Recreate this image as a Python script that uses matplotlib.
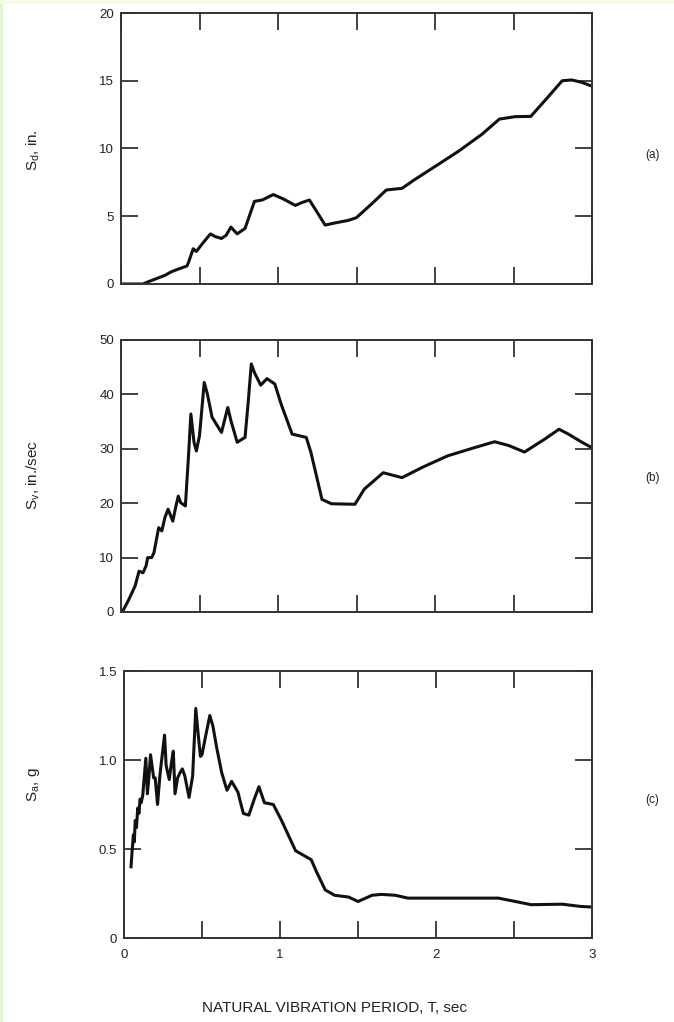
import matplotlib
matplotlib.use("Agg")
import matplotlib.pyplot as plt
import matplotlib.patches as ptch
import numpy as np

plt.rcParams['font.family'] = ['Liberation Sans', 'DejaVu Sans']
plt.rcParams['mathtext.fontset'] = 'custom'
plt.rcParams['mathtext.rm'] = 'Liberation Sans'
plt.rcParams['mathtext.it'] = 'Liberation Sans:italic'

# (a) deformation spectrum, S_d in inches
period_d = [0.0, 0.14, 0.17, 0.28, 0.32, 0.365, 0.42, 0.43, 0.46, 0.48, 0.52, 0.57,
            0.60, 0.64, 0.67, 0.70, 0.74, 0.79, 0.85, 0.90, 0.97, 1.03, 1.11, 1.15,
            1.20, 1.26, 1.30, 1.36, 1.45, 1.50, 1.60, 1.69, 1.79, 1.87, 2.00, 2.15,
            2.30, 2.41, 2.51, 2.61, 2.72, 2.81, 2.87, 2.93, 3.00]
sd = [0.0, 0.0, 0.15, 0.64, 0.9, 1.1, 1.33, 1.6, 2.6, 2.4, 3.0, 3.7,
      3.5, 3.36, 3.6, 4.2, 3.7, 4.1, 6.1, 6.2, 6.6, 6.3, 5.8, 6.0,
      6.2, 5.1, 4.35, 4.5, 4.7, 4.9, 5.95, 6.94, 7.06, 7.7, 8.67, 9.8,
      11.06, 12.17, 12.35, 12.37, 13.8, 15.0, 15.06, 14.9, 14.6]

# (b) pseudo-velocity spectrum, S_v in in./sec
period_v = [0.01, 0.05, 0.09, 0.115, 0.14, 0.16, 0.17, 0.195, 0.21, 0.24, 0.26, 0.28,
            0.30, 0.33, 0.35, 0.365, 0.38, 0.41, 0.43, 0.445, 0.465, 0.48, 0.50, 0.53,
            0.55, 0.58, 0.64, 0.68, 0.70, 0.74, 0.79, 0.81, 0.83, 0.85, 0.89, 0.93,
            0.98, 1.02, 1.09, 1.18, 1.21, 1.28, 1.34, 1.49, 1.55, 1.67, 1.79, 1.92,
            2.08, 2.25, 2.38, 2.47, 2.57, 2.70, 2.79, 2.85, 2.93, 3.00]
sv = [0.1, 2.3, 4.8, 7.5, 7.2, 8.5, 10.0, 10.0, 10.9, 15.5, 14.9, 17.4,
      18.9, 16.7, 19.5, 21.3, 20.1, 19.5, 28.7, 36.4, 31.2, 29.6, 32.4, 42.2,
      40.1, 35.8, 33.0, 37.6, 35.2, 31.2, 32.1, 38.5, 45.6, 44.0, 41.7, 42.9,
      41.9, 38.2, 32.7, 32.1, 29.3, 20.7, 19.9, 19.8, 22.6, 25.6, 24.7, 26.6,
      28.7, 30.2, 31.3, 30.6, 29.4, 31.8, 33.6, 32.7, 31.3, 30.2]

# (c) pseudo-acceleration spectrum, S_a in g
period_a = [0.045, 0.053, 0.06, 0.066, 0.072, 0.08, 0.088, 0.096, 0.103, 0.11, 0.12,
            0.14, 0.15, 0.16, 0.17, 0.19, 0.20, 0.215, 0.23, 0.24, 0.26, 0.27, 0.29,
            0.305, 0.316, 0.327, 0.344, 0.36, 0.374, 0.39, 0.417, 0.44, 0.46, 0.476,
            0.49, 0.50, 0.52, 0.55, 0.57, 0.594, 0.626, 0.66, 0.69, 0.73, 0.765, 0.80,
            0.835, 0.865, 0.90, 0.957, 1.01, 1.10, 1.14, 1.20, 1.235, 1.29, 1.35, 1.44,
            1.50, 1.59, 1.65, 1.74, 1.82, 2.08, 2.40, 2.51, 2.61, 2.81, 2.93, 3.00]
sa = [0.40, 0.50, 0.58, 0.54, 0.66, 0.62, 0.73, 0.70, 0.78, 0.76, 0.80,
      1.01, 0.81, 0.91, 1.03, 0.90, 0.90, 0.75, 0.91, 0.99, 1.14, 0.97, 0.89,
      0.99, 1.05, 0.81, 0.90, 0.93, 0.95, 0.91, 0.79, 0.91, 1.29, 1.14,
      1.02, 1.03, 1.12, 1.25, 1.19, 1.07, 0.93, 0.83, 0.88, 0.82, 0.70, 0.69,
      0.78, 0.85, 0.76, 0.75, 0.66, 0.49, 0.47, 0.44, 0.37, 0.27, 0.24, 0.23,
      0.205, 0.24, 0.245, 0.24, 0.224, 0.224, 0.224, 0.205, 0.187, 0.19, 0.177, 0.174]

ylabels = ['S$_\\mathrm{d}$, in.', 'S$_\\mathrm{v}$, in./sec', 'S$_\\mathrm{a}$, g']
yticks = [[0, 5, 10, 15, 20], [0, 10, 20, 30, 40, 50], [0, 0.5, 1.0, 1.5]]
yticklabels = [['0', '5', '10', '15', '20'],
               ['0', '10', '20', '30', '40', '50'],
               ['0', '0.5', '1.0', '1.5']]
panel_tags = ['(a)', '(b)', '(c)']

W, H = 674, 1022
fig = plt.figure(figsize=(W / 100, H / 100), dpi=100)

# pale border strips on the page
fig.patches.append(ptch.Rectangle((0, 0), 3 / W, 1, transform=fig.transFigure,
                                  facecolor='#e3f5d6', edgecolor='none'))
fig.patches.append(ptch.Rectangle((0, 1 - 4 / H), 1, 4 / H, transform=fig.transFigure,
                                  facecolor='#f5fbe6', edgecolor='none'))

# axes boxes in pixels: left, top, right, bottom
boxes = [(121, 13, 592, 284), (121, 340, 592, 612), (124, 671, 592, 938)]
series = [(period_d, sd), (period_v, sv), (period_a, sa)]
ylabel_y = [150, 475, 785]
tag_y = [155, 478, 800]

for i, ((l, t, r, b), (xs, ys)) in enumerate(zip(boxes, series)):
    ax = fig.add_axes([l / W, 1 - b / H, (r - l) / W, (b - t) / H])
    ax.plot(xs, ys, color='#111111', lw=2.2, solid_joinstyle='round')
    ax.set_xlim(0, 3)
    ax.set_ylim(yticks[i][0], yticks[i][-1])
    ax.set_xticks([0, 1, 2, 3])
    ax.set_xticks([0.5, 1.5, 2.5], minor=True)
    ax.set_yticks(yticks[i])
    ax.set_yticklabels(yticklabels[i])
    ax.tick_params(which='both', direction='in', top=True, right=True,
                   length=12, width=1.3, color='#333333', labelsize=9.5,
                   labelcolor='#222222')
    ax.tick_params(axis='y', pad=5)
    ax.tick_params(axis='x', pad=8)
    if i < 2:
        ax.set_xticklabels([])
    for s in ax.spines.values():
        s.set_linewidth(1.4)
        s.set_color('#333333')
    fig.text(33 / W, 1 - ylabel_y[i] / H, ylabels[i], rotation=90,
             ha='center', va='center', fontsize=11, color='#222222')
    fig.text(652 / W, 1 - tag_y[i] / H, panel_tags[i],
             ha='center', va='center', fontsize=8.5, color='#222222')

fig.text(335 / W, 1 - 1008 / H, 'NATURAL VIBRATION PERIOD, T, sec',
         ha='center', va='center', fontsize=11, color='#222222')

fig.savefig('out.png', dpi=100)
